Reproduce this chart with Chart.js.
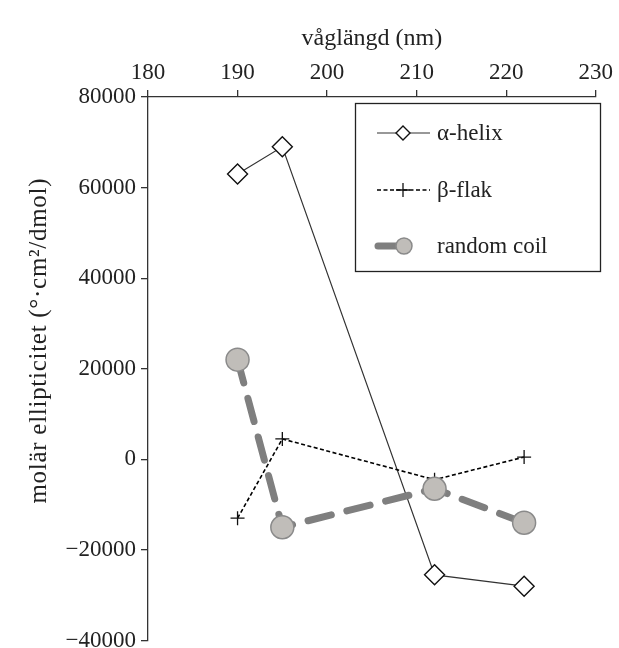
<!DOCTYPE html>
<html>
<head>
<meta charset="utf-8">
<script src="https://cdn.jsdelivr.net/npm/chart.js@4/dist/chart.umd.min.js"></script>
<style>
html,body{margin:0;padding:0;background:#fff;overflow:hidden;}
#wrap{width:619px;height:660px;position:relative;}
</style>
</head>
<body>
<div id="wrap"><canvas id="c" width="619" height="657"></canvas></div>
<script>
const wavelengths = [190, 195, 212, 222];
const alphaHelix = [63000, 69000, -25500, -28000];
const betaFlak = [-13000, 4500, -4500, 500];
const randomCoil = [22000, -15000, -6500, -14000];
const seriesNames = ['\u03b1-helix', '\u03b2-flak', 'random coil'];
const xTicks = [180, 190, 200, 210, 220, 230];
const yTicks = [-40000, -20000, 0, 20000, 40000, 60000, 80000];
const xTitle = 'v\u00e5gl\u00e4ngd (nm)';
const yTitle = 'mol\u00e4r ellipticitet (\u00b0\u00b7cm\u00b2/dmol)';

const FONT = '"Liberation Serif", "Times New Roman", serif';
const AXIS = '#333';
const TXT = '#222';
const pts = arr => wavelengths.map((x, i) => ({x: x, y: arr[i]}));

const datasets = [
  {
    label: seriesNames[2], data: pts(randomCoil), order: 0,
    borderColor: '#7f7f7f', borderWidth: 7, borderDash: [24, 16], borderCapStyle: 'round',
    pointStyle: 'circle', pointRadius: 11.5, pointBackgroundColor: '#c0bdb9',
    pointBorderColor: '#8a8a8a', pointBorderWidth: 1.5
  },
  {
    label: seriesNames[1], data: pts(betaFlak), order: 1,
    borderColor: '#000', borderWidth: 1.6, borderDash: [4, 2.5],
    pointStyle: 'cross', pointRadius: 7, pointBorderColor: '#111', pointBorderWidth: 1.3
  },
  {
    label: seriesNames[0], data: pts(alphaHelix), order: 2,
    borderColor: '#333', borderWidth: 1.2,
    pointStyle: 'rectRot', pointRadius: 10, pointBackgroundColor: '#fff',
    pointBorderColor: '#111', pointBorderWidth: 1.4
  }
];

const legendPlugin = {
  id: 'boxLegend',
  afterDraw(chart) {
    const ctx = chart.ctx;
    ctx.save();
    ctx.strokeStyle = '#222';
    ctx.lineWidth = 1.3;
    ctx.strokeRect(355.5, 103.5, 245, 168);
    ctx.font = '23px ' + FONT;
    ctx.fillStyle = TXT;
    ctx.textBaseline = 'middle';
    ctx.textAlign = 'left';
    const rows = [
      {ds: datasets[2], y: 133},
      {ds: datasets[1], y: 190},
      {ds: datasets[0], y: 246}
    ];
    rows.forEach((r, i) => {
      const d = r.ds;
      ctx.save();
      ctx.strokeStyle = d.borderColor;
      ctx.lineWidth = d.borderWidth;
      ctx.lineCap = i === 2 ? 'round' : 'butt';
      ctx.setLineDash(i === 1 ? [4, 2.5] : []);
      ctx.beginPath();
      if (i === 2) { ctx.moveTo(378, r.y); ctx.lineTo(400, r.y); }
      else { ctx.moveTo(377, r.y); ctx.lineTo(430, r.y); }
      ctx.stroke();
      ctx.restore();
      ctx.save();
      ctx.fillStyle = d.pointBackgroundColor || '#fff';
      ctx.strokeStyle = d.pointBorderColor;
      ctx.lineWidth = d.pointBorderWidth;
      const px = i === 2 ? 404 : 403;
      const rad = i === 2 ? 8 : 7;
      Chart.helpers.drawPoint(ctx, {pointStyle: d.pointStyle, radius: rad, rotation: 0, borderWidth: d.pointBorderWidth}, px, r.y);
      ctx.restore();
      ctx.fillText(d.label, 437, r.y + 1);
    });
    // y-axis title, placed as in the reference (above the axis centre)
    ctx.save();
    ctx.translate(39, 341);
    ctx.rotate(-Math.PI / 2);
    ctx.font = '25px ' + FONT;
    const w0 = ctx.measureText(yTitle).width;
    const n = [...yTitle].length;
    const sp = Math.max(0, (325 - w0) / (n - 1));
    ctx.letterSpacing = sp.toFixed(2) + 'px';
    ctx.textAlign = 'center';
    ctx.textBaseline = 'middle';
    ctx.fillText(yTitle, sp / 2, 0);
    ctx.restore();
    ctx.restore();
  }
};

new Chart(document.getElementById('c'), {
  type: 'line',
  data: { datasets: datasets },
  options: {
    responsive: false,
    animation: false,
    devicePixelRatio: 1,
    layout: { padding: { left: 0, right: 22, top: 0, bottom: 0 } },
    plugins: { legend: { display: false }, tooltip: { enabled: false } },
    scales: {
      x: {
        type: 'linear', position: 'top', min: 180, max: 230,
        afterBuildTicks: s => { s.ticks = xTicks.map(v => ({value: v})); },
        afterFit: s => { s.height = 97; },
        grid: { drawOnChartArea: false, drawTicks: true, tickLength: 7, color: AXIS, lineWidth: 1.3 },
        border: { display: true, color: AXIS, width: 1.3 },
        ticks: { color: TXT, font: { family: FONT, size: 23, lineHeight: 1 }, padding: 6, maxRotation: 0 },
        title: { display: true, text: xTitle, color: TXT, font: { family: FONT, size: 24, lineHeight: 1 }, padding: { top: 27, bottom: 9 } }
      },
      y: {
        type: 'linear', min: -40000, max: 80000,
        afterBuildTicks: s => { s.ticks = yTicks.map(v => ({value: v})); },
        afterFit: s => { s.width = 148; },
        grid: { drawOnChartArea: false, drawTicks: true, tickLength: 7, color: AXIS, lineWidth: 1.3 },
        border: { display: true, color: AXIS, width: 1.3 },
        ticks: { color: TXT, font: { family: FONT, size: 23, lineHeight: 1 }, padding: 5,
          callback: v => (v < 0 ? '\u2212' + Math.abs(v) : String(v)) },
        title: { display: false }
      }
    }
  },
  plugins: [legendPlugin]
});
</script>
</body>
</html>
